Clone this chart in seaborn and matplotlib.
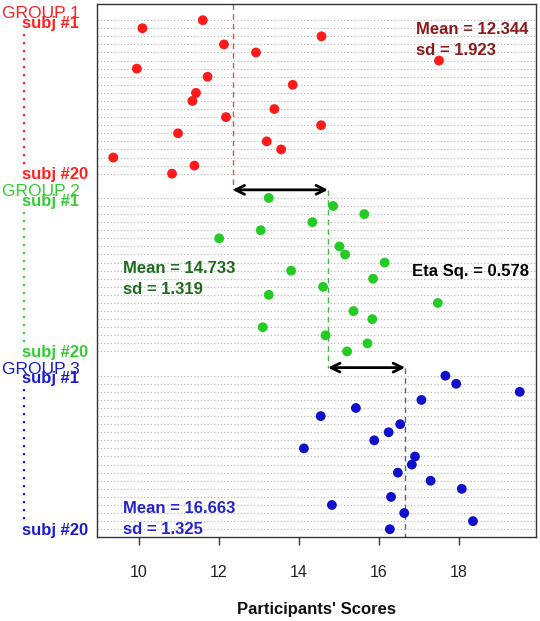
import numpy as np
import pandas as pd
import matplotlib
matplotlib.use("Agg")
import matplotlib.pyplot as plt
import matplotlib.transforms as mtransforms
import seaborn as sns

# ---- data ----
group_names = ["GROUP 1", "GROUP 2", "GROUP 3"]
g1_scores = [11.60, 10.09, 14.57, 12.13, 12.93, 17.51, 9.95, 11.72, 13.85, 11.43,
             11.34, 13.39, 12.18, 14.56, 10.98, 13.20, 13.56, 9.36, 11.39, 10.83]
g2_scores = [13.25, 14.86, 15.64, 14.34, 13.05, 12.01, 15.02, 15.16, 16.15, 13.81,
             15.86, 14.61, 13.25, 17.48, 15.37, 15.84, 13.10, 14.67, 15.72, 15.21]
g3_scores = [17.67, 17.94, 19.53, 17.07, 15.43, 14.55, 16.54, 16.25, 15.89, 14.13,
             16.91, 16.83, 16.48, 17.30, 18.08, 16.31, 14.83, 16.64, 18.36, 16.28]
group_means = [12.344, 14.733, 16.663]
group_sds = [1.923, 1.319, 1.325]
eta_sq = 0.578
x_ticks = [10, 12, 14, 16, 18]
x_label = "Participants' Scores"

point_colors = ["#ff1a1a", "#22cc22", "#1010cc"]
label_colors = ["#ff2020", "#33cc33", "#1a1acc"]
stat_colors = ["#8b1a1a", "#1e6b1e", "#2424cc"]
mean_line_colors = ["#d85050", "#44bb44", "#5a5a9a"]

n_subj = 20
block = 22  # header row + 20 subjects + 1 blank row

rows = []
for g, scores in enumerate([g1_scores, g2_scores, g3_scores]):
    for i, s in enumerate(scores):
        rows.append({"group": group_names[g], "subj": i + 1,
                     "row": g * block + i + 1, "score": s})
df = pd.DataFrame(rows)

sns.set_theme(style="white")
plt.rcParams["font.family"] = ["Liberation Sans", "DejaVu Sans"]

fig = plt.figure(figsize=(5.40, 6.21), dpi=100)
ax = fig.add_axes([97 / 540, 1 - 537.3 / 621, (536 - 97) / 540, (537.3 - 4) / 621])

# dotted horizontal guide lines for each subject row
for r in df["row"]:
    ax.axhline(r, color="#b0b0b0", lw=0.8, ls=(0, (1, 2)), zorder=0)

sns.scatterplot(data=df, x="score", y="row", hue="group",
                palette=dict(zip(group_names, point_colors)),
                s=50, edgecolor="none", legend=False, ax=ax, zorder=3)

ax.set_xlim(8.953, 19.937)
ax.set_ylim(65, -1)

# mean lines
header_rows = [0, block, 2 * block]
y_tops = [-1, block, 2 * block]
y_bots = [block, 2 * block, 65]
for g in range(3):
    ax.plot([group_means[g], group_means[g]], [y_tops[g], y_bots[g]],
            color=mean_line_colors[g], lw=1.0, ls=(0, (4, 3)), zorder=2)

# arrows between means
for g in range(2):
    ax.annotate("", xy=(group_means[g + 1], header_rows[g + 1]),
                xytext=(group_means[g], header_rows[g + 1]),
                arrowprops=dict(arrowstyle="<->", color="black", lw=2.0,
                                mutation_scale=16, shrinkA=0, shrinkB=0),
                zorder=4)

# stats texts
ax.text(16.94, 3.5, f"Mean = {group_means[0]:.3f}\nsd = {group_sds[0]:.3f}",
        color=stat_colors[0], fontsize=12, fontweight="bold", va="center",
        ha="left", linespacing=1.5)
ax.text(9.61, 33.0, f"Mean = {group_means[1]:.3f}\nsd = {group_sds[1]:.3f}",
        color=stat_colors[1], fontsize=12, fontweight="bold", va="center",
        ha="left", linespacing=1.5)
ax.text(16.84, 32.1, f"Eta Sq. = {eta_sq:.3f}", color="black", fontsize=12,
        fontweight="bold", va="center", ha="left")
ax.text(9.61, 62.7, f"Mean = {group_means[2]:.3f}\nsd = {group_sds[2]:.3f}",
        color=stat_colors[2], fontsize=12, fontweight="bold", va="center",
        ha="left", linespacing=1.5)

# left-side labels
trans = mtransforms.blended_transform_factory(fig.transFigure, ax.transData)
for g in range(3):
    base = header_rows[g]
    ax.text(2 / 540, base + 0.2, group_names[g], transform=trans, color=label_colors[g],
            fontsize=12.5, ha="left", va="center", clip_on=False)
    ax.text(22 / 540, base + 1.4, "subj #1", transform=trans, color=label_colors[g],
            fontsize=12, fontweight="bold", ha="left", va="center", clip_on=False)
    ax.text(22 / 540, base + 20.1, "subj #20", transform=trans, color=label_colors[g],
            fontsize=12, fontweight="bold", ha="left", va="center", clip_on=False)
    ax.plot([24 / 540, 24 / 540], [base + 2.7, base + 18.9], transform=trans,
            color=label_colors[g], lw=1.6, ls=(0, (1, 2.6)), clip_on=False)

ax.set_yticks([])
ax.set_ylabel("")
ax.set_xticks(x_ticks)
ax.set_xticklabels([str(t) for t in x_ticks], fontsize=11.5, color="#222222")
ax.tick_params(axis="x", direction="out", length=6, width=1, color="#333333",
               pad=14, bottom=True)
ax.set_xlabel(x_label, fontsize=12, fontweight="bold", labelpad=16, color="#111111")

for sp in ax.spines.values():
    sp.set_color("#333333")
    sp.set_linewidth(1.0)

fig.savefig("out.png", dpi=100)
